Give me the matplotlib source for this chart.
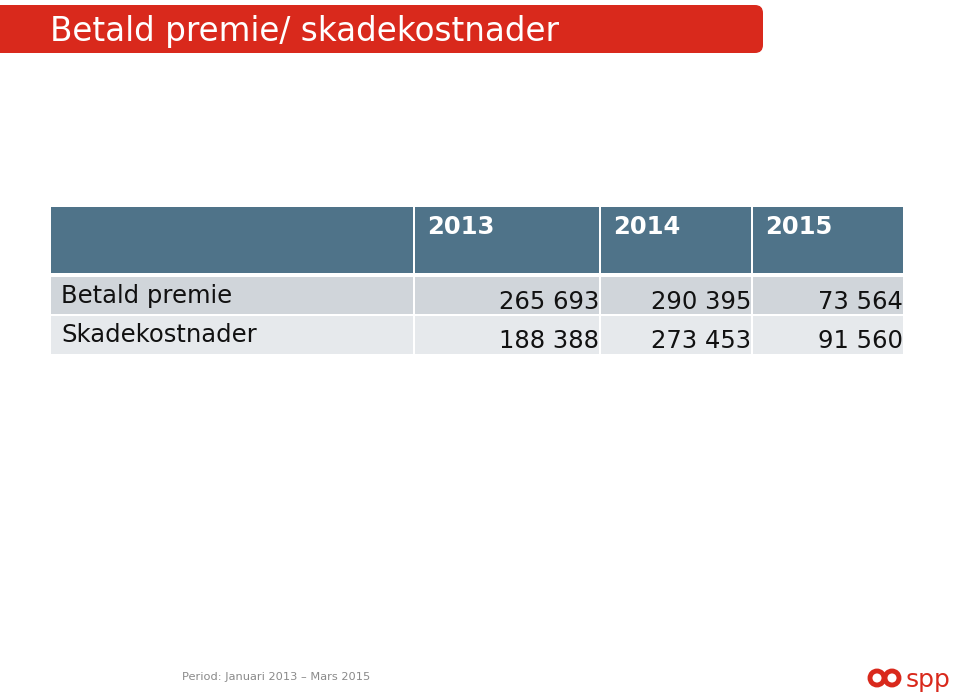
import matplotlib
matplotlib.use("Agg")
import matplotlib.pyplot as plt
from matplotlib.patches import FancyBboxPatch, Rectangle, Circle

plt.rcParams["font.family"] = "DejaVu Sans"

title = "Betald premie/ skadekostnader"
years = ["2013", "2014", "2015"]
row_labels = ["Betald premie", "Skadekostnader"]
betald_premie = [265693, 290395, 73564]
skadekostnader = [188388, 273453, 91560]
footer = "Period: Januari 2013 \u2013 Mars 2015"

def fmt(v):
    return "{:,}".format(v).replace(",", " ")

fig = plt.figure(figsize=(9.6, 6.95), dpi=100)
ax = fig.add_axes([0, 0, 1, 1])
ax.set_xlim(0, 960)
ax.set_ylim(695, 0)
ax.axis("off")

# red title banner
ax.add_patch(FancyBboxPatch((-20, 5), 783, 48, boxstyle="round,pad=0,rounding_size=8",
                            fc="#d9291c", ec="none"))
ax.text(50, 31, title, color="white", fontsize=23.5, va="center", ha="left")

# table
col_edges = [51, 415, 601, 753, 905]
header = (207, 273)
rows = [(277, 314), (316, 354)]
row_colors = ["#d0d5da", "#e6e9ec"]
for i in range(4):
    ax.add_patch(Rectangle((col_edges[i], header[0]), col_edges[i + 1] - col_edges[i] - 2,
                           header[1] - header[0], fc="#4f7389", ec="none"))
for i, y in enumerate(years):
    ax.text(col_edges[i + 1] + 12, 227, y, color="white", fontsize=17.5, fontweight="bold",
            va="center", ha="left")

data = [betald_premie, skadekostnader]
for r, (y0, y1) in enumerate(rows):
    for i in range(4):
        ax.add_patch(Rectangle((col_edges[i], y0), col_edges[i + 1] - col_edges[i] - 2,
                               y1 - y0, fc=row_colors[r], ec="none"))
    ax.text(61, y0 + 19, row_labels[r], fontsize=17.5, color="#111111", va="center", ha="left")
    for i, v in enumerate(data[r]):
        ax.text(col_edges[i + 2] - 2, y0 + 25, fmt(v), fontsize=17.5, color="#111111",
                va="center", ha="right")

# footer
ax.text(182, 677, footer, fontsize=8.2, color="#8a8a8a", va="center", ha="left")

# logo
for cx in (877, 892):
    ax.add_patch(Circle((cx, 678), 7, fc="none", ec="#d9291c", lw=3.5))
ax.text(906, 680, "spp", fontsize=18, color="#d9291c", va="center", ha="left")

fig.savefig("out.png", dpi=100)
